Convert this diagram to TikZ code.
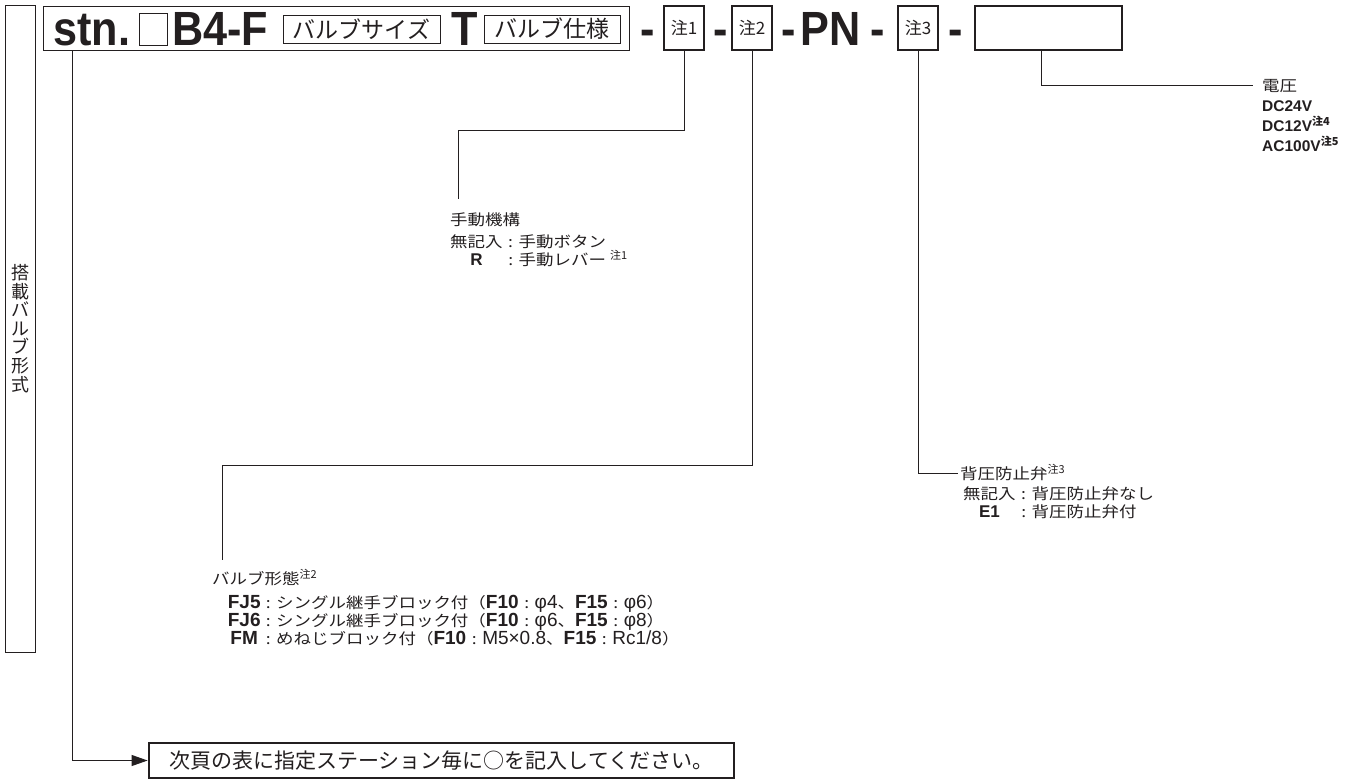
\documentclass[tikz,border=0pt]{standalone}
\usepackage{fontspec}
\setmainfont{Liberation Sans}
\newfontfamily\jp{Noto Sans CJK JP}
\newfontfamily\jpw[FakeStretch=1.15]{Noto Sans CJK JP}
\newfontfamily\codefont[FakeStretch=0.9]{Liberation Sans}
\usetikzlibrary{positioning,arrows.meta,calc}
\definecolor{mkink}{RGB}{35,31,32}
\newcommand\jt[1]{{\jpw\fontsize{15.2}{15.2}\selectfont #1}}
\newcommand\chu[1]{\raisebox{6pt}[0pt][0pt]{\jp\fontsize{11}{11}\selectfont 注#1}}
\newcommand\sep{\makebox[16pt][c]{\jt{:}}}
\newcommand\keycol[2]{\makebox[#1][c]{\textbf{#2}}}
\tikzset{
  code/.style={font=\codefont\bfseries\fontsize{48}{48}\selectfont, inner sep=0pt, anchor=base west, text=mkink},
  thinbox/.style={draw=mkink, line width=1pt, inner sep=0pt},
  tag/.style={font=\jp\fontsize{23}{23}\selectfont, text=mkink},
  notebox/.style={draw=mkink, line width=2.8pt, inner sep=0pt, minimum width=40pt, minimum height=44pt,
    font=\jp\fontsize{17}{17}\selectfont, text=mkink},
  lead/.style={draw=mkink, line width=1pt},
  desc/.style={font=\fontsize{19}{19}\selectfont, anchor=base west, inner sep=0pt, text=mkink},
  descsm/.style={desc, font=\fontsize{17}{17}\selectfont},
  volt/.style={font=\bfseries\fontsize{15.5}{15.5}\selectfont, anchor=base west, inner sep=0pt, text=mkink},
}

\begin{document}
\begin{tikzpicture}[x=1pt, y=-1pt]
  \fill[white] (0,0) rectangle (1368,780);
  \useasboundingbox (0,0) rectangle (1368,780);

  % ===== left column label =====
  \node[thinbox, minimum width=30pt, minimum height=647pt, align=center,
    font=\jp\fontsize{18}{18.6}\selectfont, text=mkink] (valvetype) at (20,328.5)
    {搭\\載\\バ\\ル\\ブ\\形\\式};

  % ===== model code row =====
  \node[thinbox, minimum width=586pt, minimum height=44pt] (mainbox) at (336,28) {};
  \node[code] (stn) at (53,45) {stn.};
  \node[thinbox, minimum width=28pt, minimum height=32pt] (stasq) at (153,29) {};
  \node[code] (model) at (172,45) {B4-F};
  \node[thinbox, tag, minimum width=157pt, minimum height=28pt] (sizebox) at (361.5,29) {バルブサイズ};
  \node[code, anchor=base] (tee) at (464.5,45) {T};
  \node[thinbox, tag, minimum width=136pt, minimum height=28pt] (specbox) at (552,29) {バルブ仕様};

  \foreach \x/\n in {648/da, 721/db, 789/dc, 878/dd, 956/de}
    \node[code, anchor=base] (\n) at (\x,45) {-};
  \node[notebox] (nta) at (684,28) {注1};
  \node[notebox] (ntb) at (752,28) {注2};
  \node[code, anchor=base] (pn) at (830.5,45) {PN};
  \node[notebox] (ntc) at (918,28) {注3};
  \node[notebox, minimum width=147pt] (voltbox) at (1048.5,28) {};

  % ===== manual override (note 1) =====
  \node[descsm] (hand) at (450,225) {\jt{手動機構}};
  \node[descsm] (handa) at (450,247) {\jt{無記入}\sep\jt{手動ボタン}};
  \node[descsm] (handb) at (450,265) {\keycol{52.5pt}{R}\sep\jt{手動レバー}\hspace{4pt}\chu{1}};

  % ===== valve form (note 2) =====
  \node[desc] (form) at (212,584) {\jt{バルブ形態}\chu{2}};
  \node[desc] (forma) at (228,608) {\keycol{32pt}{FJ5}\sep\jt{シングル継手ブロック付（}\textbf{F10}\sep φ4\jt{、}\textbf{F15}\sep φ6\jt{）}};
  \node[desc] (formb) at (228,626) {\keycol{32pt}{FJ6}\sep\jt{シングル継手ブロック付（}\textbf{F10}\sep φ6\jt{、}\textbf{F15}\sep φ8\jt{）}};
  \node[desc] (formc) at (228,644) {\keycol{32pt}{FM}\sep\jt{めねじブロック付（}\textbf{F10}\sep M5×0.8\jt{、}\textbf{F15}\sep Rc1/8\jt{）}};

  % ===== back pressure valve (note 3) =====
  \node[descsm] (backp) at (960,479) {\jt{背圧防止弁}\chu{3}};
  \node[descsm] (backpa) at (963,499) {\jt{無記入}\sep\jt{背圧防止弁なし}};
  \node[descsm] (backpb) at (963,517) {\keycol{52.5pt}{E1}\sep\jt{背圧防止弁付}};

  % ===== voltage =====
  \node[descsm] (voltage) at (1262,91) {\jt{電圧}};
  \node[volt] (volta) at (1262,111) {DC24V};
  \node[volt] (voltb) at (1262,131) {DC12V\chu{4}};
  \node[volt] (voltc) at (1262,151) {AC100V\chu{5}};

  % ===== station note =====
  \node[notebox, minimum width=585pt, minimum height=35pt, font=\jp\fontsize{21}{21}\selectfont]
    (notice) at (441.5,760.5) {次頁の表に指定ステーション毎に○を記入してください。};

  % ===== leads =====
  \coordinate (ntabend) at (458,130);
  \coordinate (ntaend) at (458,199);
  \coordinate (ntbbend) at (222,465);
  \coordinate (ntbend) at (222,560);
  \coordinate (ntcend) at (958,473);
  \coordinate (voltend) at (1253,85);
  \draw[lead] (nta.south) |- (ntabend) -- (ntaend);
  \draw[lead] (ntb.south) |- (ntbbend) -- (ntbend);
  \draw[lead] (ntc.south) |- (ntcend);
  \draw[lead] ([xshift=-7pt]voltbox.south) |- (voltend);
  \draw[lead, -{Triangle[length=16pt,width=11pt]}] ([xshift=30pt]mainbox.south west) |- (notice.west);

\end{tikzpicture}
\end{document}
